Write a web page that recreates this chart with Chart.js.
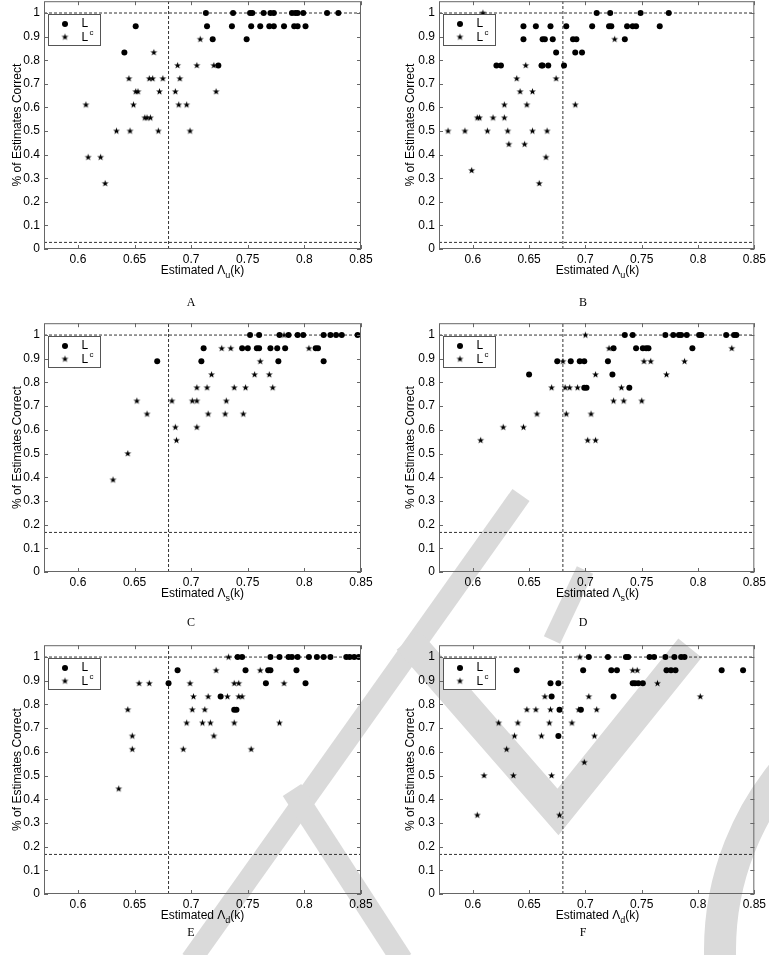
<!doctype html>
<html lang="en">
<head>
<meta charset="utf-8">
<title>% of Estimates Correct vs Estimated Lambda(k)</title>
<script src="https://cdn.jsdelivr.net/npm/chart.js"></script>
<style>
  body { margin: 0; background: #fff; width: 769px; height: 955px; position: relative; overflow: hidden;
         font-family: "Liberation Sans", Arial, sans-serif; }
  #wm { position: absolute; left: 0; top: 0; }
  canvas { position: absolute; }
  .xt { position: absolute; text-align: center; font-size: 12px; line-height: 14px; color: #000; white-space: nowrap; }
  .xt .sub { font-size: 9px; position: relative; top: 4px; }
  .cap { position: absolute; width: 40px; margin-left: -20px; text-align: center; font-family: "Liberation Serif", "Times New Roman", serif;
         font-size: 12px; line-height: 14px; color: #000; }
</style>
</head>
<body>

<svg id="wm" width="769" height="955">
  <g stroke="#dadada" fill="none" stroke-linecap="butt" stroke-linejoin="miter">
    <line x1="521" y1="495" x2="191" y2="960" stroke-width="21"/>
    <line x1="292" y1="790" x2="402" y2="960" stroke-width="22"/>
    <line x1="585" y1="570" x2="552" y2="640" stroke-width="18"/>
    <polyline points="408,640 558,812 690,648" stroke-width="30"/>
    <circle cx="1000" cy="950" r="280" stroke-width="32"/>
  </g>
</svg>

<script>
  // axis ranges and reference lines (same in every panel)
  const xMin = 0.57, xMax = 0.85, xStep = 0.05;
  const yMin = 0, yMax = 1.05, yStep = 0.1;
  const splitX = 0.68;
  const topY = 1;
  const lowY = { A: 0.028, B: 0.028, C: 0.167, D: 0.167, E: 0.167, F: 0.167 };

  // [estimate, % correct] for L (circles) and L^c (stars)
  const aL = [[0.713,1],[0.737,1],[0.752,1],[0.754,1],[0.764,1],[0.770,1],[0.773,1],[0.789,1],[0.792,1],[0.794,1],[0.799,1],[0.820,1],[0.830,1],
    [0.651,0.944],[0.714,0.944],[0.736,0.944],[0.753,0.944],[0.761,0.944],[0.769,0.944],[0.773,0.944],[0.782,0.944],[0.791,0.944],[0.794,0.944],[0.801,0.944],
    [0.719,0.889],[0.749,0.889],[0.641,0.833],[0.724,0.778]];
  const aLc = [[0.708,0.889],[0.667,0.833],[0.688,0.778],[0.705,0.778],[0.720,0.778],
    [0.645,0.722],[0.663,0.722],[0.666,0.722],[0.675,0.722],[0.690,0.722],
    [0.651,0.667],[0.653,0.667],[0.672,0.667],[0.686,0.667],[0.722,0.667],
    [0.607,0.611],[0.649,0.611],[0.689,0.611],[0.696,0.611],[0.659,0.556],[0.661,0.556],[0.664,0.556],
    [0.634,0.5],[0.646,0.5],[0.671,0.5],[0.699,0.5],[0.609,0.389],[0.620,0.389],[0.624,0.278]];

  const bL = [[0.710,1],[0.722,1],[0.749,1],[0.774,1],
    [0.645,0.944],[0.656,0.944],[0.669,0.944],[0.683,0.944],[0.706,0.944],[0.721,0.944],[0.723,0.944],[0.737,0.944],[0.742,0.944],[0.745,0.944],[0.766,0.944],
    [0.645,0.889],[0.662,0.889],[0.664,0.889],[0.671,0.889],[0.689,0.889],[0.692,0.889],[0.735,0.889],
    [0.674,0.833],[0.691,0.833],[0.697,0.833],
    [0.621,0.778],[0.625,0.778],[0.661,0.778],[0.662,0.778],[0.667,0.778],[0.681,0.778]];
  const bLc = [[0.609,1],[0.726,0.889],[0.647,0.778],[0.639,0.722],[0.674,0.722],[0.642,0.667],[0.653,0.667],
    [0.628,0.611],[0.648,0.611],[0.691,0.611],[0.604,0.556],[0.606,0.556],[0.618,0.556],[0.628,0.556],
    [0.578,0.5],[0.593,0.5],[0.613,0.5],[0.631,0.5],[0.653,0.5],[0.666,0.5],
    [0.632,0.444],[0.646,0.444],[0.665,0.389],[0.599,0.333],[0.659,0.278]];

  const cL = [[0.752,1],[0.760,1],[0.778,1],[0.786,1],[0.794,1],[0.799,1],[0.817,1],[0.823,1],[0.828,1],[0.833,1],[0.847,1],
    [0.711,0.944],[0.745,0.944],[0.750,0.944],[0.758,0.944],[0.760,0.944],[0.770,0.944],[0.776,0.944],[0.783,0.944],[0.810,0.944],[0.812,0.944],
    [0.670,0.889],[0.709,0.889],[0.777,0.889],[0.817,0.889]];
  const cLc = [[0.782,1],[0.727,0.944],[0.735,0.944],[0.804,0.944],[0.761,0.889],
    [0.718,0.833],[0.756,0.833],[0.769,0.833],
    [0.705,0.778],[0.714,0.778],[0.738,0.778],[0.748,0.778],[0.772,0.778],
    [0.652,0.722],[0.683,0.722],[0.701,0.722],[0.705,0.722],[0.731,0.722],
    [0.661,0.667],[0.715,0.667],[0.730,0.667],[0.746,0.667],
    [0.686,0.611],[0.705,0.611],[0.687,0.556],[0.644,0.5],[0.631,0.389]];

  const dL = [[0.735,1],[0.742,1],[0.771,1],[0.778,1],[0.783,1],[0.785,1],[0.790,1],[0.801,1],[0.803,1],[0.825,1],[0.832,1],[0.834,1],
    [0.725,0.944],[0.745,0.944],[0.751,0.944],[0.754,0.944],[0.756,0.944],[0.795,0.944],
    [0.675,0.889],[0.687,0.889],[0.695,0.889],[0.699,0.889],[0.720,0.889],
    [0.650,0.833],[0.724,0.833],[0.699,0.778],[0.701,0.778],[0.739,0.778]];
  const dLc = [[0.700,1],[0.721,0.944],[0.830,0.944],
    [0.680,0.889],[0.752,0.889],[0.758,0.889],[0.788,0.889],[0.709,0.833],[0.772,0.833],
    [0.670,0.778],[0.682,0.778],[0.686,0.778],[0.693,0.778],[0.732,0.778],
    [0.725,0.722],[0.734,0.722],[0.750,0.722],[0.657,0.667],[0.683,0.667],[0.705,0.667],
    [0.627,0.611],[0.645,0.611],[0.607,0.556],[0.702,0.556],[0.709,0.556]];

  const eL = [[0.741,1],[0.745,1],[0.770,1],[0.778,1],[0.786,1],[0.789,1],[0.794,1],[0.804,1],[0.811,1],[0.817,1],[0.823,1],[0.837,1],[0.840,1],[0.844,1],[0.848,1],
    [0.688,0.944],[0.748,0.944],[0.768,0.944],[0.770,0.944],[0.793,0.944],
    [0.680,0.889],[0.766,0.889],[0.801,0.889],[0.726,0.833],[0.738,0.778],[0.740,0.778]];
  const eLc = [[0.733,1],[0.722,0.944],[0.761,0.944],
    [0.654,0.889],[0.663,0.889],[0.699,0.889],[0.738,0.889],[0.742,0.889],[0.782,0.889],
    [0.702,0.833],[0.715,0.833],[0.732,0.833],[0.742,0.833],[0.745,0.833],
    [0.644,0.778],[0.701,0.778],[0.712,0.778],
    [0.696,0.722],[0.710,0.722],[0.717,0.722],[0.738,0.722],[0.778,0.722],
    [0.648,0.667],[0.720,0.667],[0.648,0.611],[0.693,0.611],[0.753,0.611],[0.636,0.444]];

  const fL = [[0.703,1],[0.720,1],[0.736,1],[0.738,1],[0.757,1],[0.761,1],[0.771,1],[0.779,1],[0.785,1],[0.788,1],
    [0.639,0.944],[0.698,0.944],[0.723,0.944],[0.728,0.944],[0.772,0.944],[0.776,0.944],[0.780,0.944],[0.821,0.944],[0.840,0.944],
    [0.669,0.889],[0.676,0.889],[0.742,0.889],[0.744,0.889],[0.747,0.889],[0.751,0.889],
    [0.670,0.833],[0.725,0.833],[0.677,0.778],[0.696,0.778],[0.676,0.667]];
  const fLc = [[0.695,1],[0.742,0.944],[0.746,0.944],[0.764,0.889],
    [0.664,0.833],[0.703,0.833],[0.802,0.833],
    [0.648,0.778],[0.656,0.778],[0.669,0.778],[0.694,0.778],[0.710,0.778],
    [0.623,0.722],[0.640,0.722],[0.668,0.722],[0.688,0.722],
    [0.637,0.667],[0.661,0.667],[0.708,0.667],[0.630,0.611],[0.699,0.556],
    [0.610,0.5],[0.636,0.5],[0.670,0.5],[0.604,0.333],[0.677,0.333]];

  const panels = [
    { id: 'A', L: aL, Lc: aLc, sub: 'u' },
    { id: 'B', L: bL, Lc: bLc, sub: 'u' },
    { id: 'C', L: cL, Lc: cLc, sub: 's' },
    { id: 'D', L: dL, Lc: dLc, sub: 's' },
    { id: 'E', L: eL, Lc: eLc, sub: 'd' },
    { id: 'F', L: fL, Lc: fLc, sub: 'd' }
  ];

  // page geometry
  const colLeft = [0, 385], colWidth = [385, 384], axisW = [44, 54], titlePad = [10, 18];
  const plotW = 317, padTop = 10, xAxisH = 20;
  const rowPlotTop = [0, 322, 644], rowPlotH = [249, 250, 250], capY = [302, 622, 932];
  const capX = [191, 583];

  // small filled star used as the L^c marker
  const star = document.createElement('canvas');
  star.width = 9; star.height = 9;
  (function () {
    const c = star.getContext('2d');
    c.fillStyle = '#000';
    c.beginPath();
    for (let i = 0; i < 10; i++) {
      const r = i % 2 ? 1.5 : 3.6;
      const a = -Math.PI / 2 + i * Math.PI / 5;
      const px = 4.5 + r * Math.cos(a), py = 4.6 + r * Math.sin(a);
      i ? c.lineTo(px, py) : c.moveTo(px, py);
    }
    c.closePath();
    c.fill();
  })();

  // box, inward ticks and the legend, MATLAB style
  const frame = {
    id: 'frame',
    afterDraw(chart) {
      const { ctx, chartArea: a, scales: { x, y } } = chart;
      ctx.save();
      ctx.strokeStyle = '#666';
      ctx.lineWidth = 1;
      ctx.beginPath();
      x.ticks.forEach(t => {
        const px = Math.round(x.getPixelForValue(t.value)) + 0.5;
        ctx.moveTo(px, a.bottom); ctx.lineTo(px, a.bottom - 4);
        ctx.moveTo(px, a.top); ctx.lineTo(px, a.top + 4);
      });
      y.ticks.forEach(t => {
        const py = Math.round(y.getPixelForValue(t.value)) + 0.5;
        ctx.moveTo(a.left, py); ctx.lineTo(a.left + 4, py);
        ctx.moveTo(a.right, py); ctx.lineTo(a.right - 4, py);
      });
      ctx.stroke();
      ctx.strokeRect(a.left + 0.5, a.top + 0.5, a.width - 1, a.height - 1);

      const bx = Math.round(a.left) + 4.5, by = Math.round(a.top) + 13.5;
      ctx.fillStyle = '#fff';
      ctx.fillRect(bx, by, 52, 31);
      ctx.strokeStyle = '#555';
      ctx.strokeRect(bx, by, 52, 31);
      ctx.fillStyle = '#000';
      ctx.beginPath();
      ctx.arc(bx + 16.5, by + 9.5, 3, 0, Math.PI * 2);
      ctx.fill();
      ctx.drawImage(star, bx + 12, by + 18);
      ctx.font = '12px "Liberation Sans", Arial, sans-serif';
      ctx.textBaseline = 'middle';
      ctx.fillText('L', bx + 33, by + 9.5);
      ctx.fillText('L', bx + 33, by + 23);
      ctx.font = '8px "Liberation Sans", Arial, sans-serif';
      ctx.fillText('c', bx + 41, by + 18);
      ctx.restore();
    }
  };

  const fmt = v => String(+v.toFixed(2));
  const pts = arr => arr.map(([x, y]) => ({ x, y }));
  const refLine = data => ({
    data, showLine: true, pointRadius: 0, borderColor: '#333', borderWidth: 1, borderDash: [3, 2], order: 1
  });

  panels.forEach((p, i) => {
    const col = i % 2, row = Math.floor(i / 2);
    const plotH = rowPlotH[row];
    const cv = document.createElement('canvas');
    const w = colWidth[col], h = padTop + plotH + xAxisH;
    cv.width = w; cv.height = h;
    cv.style.left = colLeft[col] + 'px';
    cv.style.top = (rowPlotTop[row] - padTop) + 'px';
    cv.style.width = w + 'px'; cv.style.height = h + 'px';
    document.body.appendChild(cv);

    new Chart(cv, {
      type: 'scatter',
      data: {
        datasets: [
          { data: pts(p.L), pointStyle: 'circle', pointRadius: 3, backgroundColor: '#000', borderWidth: 0, order: 0 },
          { data: pts(p.Lc), pointStyle: star, pointRadius: 4, order: 0 },
          refLine([{ x: xMin, y: topY }, { x: xMax, y: topY }]),
          refLine([{ x: xMin, y: lowY[p.id] }, { x: xMax, y: lowY[p.id] }]),
          refLine([{ x: splitX, y: yMin }, { x: splitX, y: yMax }])
        ]
      },
      options: {
        responsive: false,
        animation: false,
        events: [],
        layout: { padding: { top: padTop, right: w - axisW[col] - plotW, bottom: 0, left: 0 } },
        plugins: { legend: { display: false }, tooltip: { enabled: false } },
        scales: {
          x: {
            type: 'linear', min: xMin, max: xMax,
            grid: { display: false, drawTicks: false }, border: { display: false },
            ticks: { stepSize: xStep, includeBounds: false, autoSkip: false, maxRotation: 0, padding: 3,
                     color: '#000', font: { size: 12, family: '"Liberation Sans", Arial, sans-serif' }, callback: fmt },
            afterFit: s => { s.height = xAxisH; }
          },
          y: {
            min: yMin, max: yMax,
            grid: { display: false, drawTicks: false }, border: { display: false },
            ticks: { stepSize: yStep, includeBounds: false, autoSkip: false, padding: 4,
                     color: '#000', font: { size: 12, family: '"Liberation Sans", Arial, sans-serif' }, callback: fmt },
            title: { display: true, text: '% of Estimates Correct', color: '#000',
                     font: { size: 12, family: '"Liberation Sans", Arial, sans-serif' },
                     padding: { top: titlePad[col], bottom: 0 } },
            afterFit: s => { s.width = axisW[col]; }
          }
        }
      },
      plugins: [frame]
    });

    const plotLeft = colLeft[col] + axisW[col];
    const plotBottom = rowPlotTop[row] + plotH;
    const xt = document.createElement('div');
    xt.className = 'xt';
    xt.style.left = plotLeft + 'px';
    xt.style.width = plotW + 'px';
    xt.style.top = (plotBottom + 14) + 'px';
    xt.innerHTML = 'Estimated \u039b<span class="sub">' + p.sub + '</span>(k)';
    document.body.appendChild(xt);

    const cap = document.createElement('div');
    cap.className = 'cap';
    cap.style.left = capX[col] + 'px';
    cap.style.top = (capY[row] - 7) + 'px';
    cap.textContent = p.id;
    document.body.appendChild(cap);
  });
</script>
</body>
</html>
